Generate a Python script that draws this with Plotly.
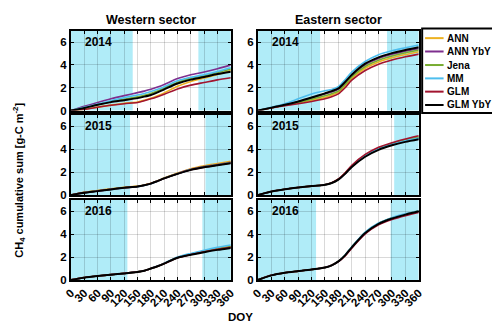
import plotly.graph_objects as go

# ---------------- data ----------------
DOY = [0, 30, 60, 90, 120, 150, 165, 180, 195, 210, 240, 270, 300, 330, 360]
SERIES = ["ANN", "ANN YbY", "Jena", "MM", "GLM", "GLM YbY"]
COLORS = ["#EDB120", "#7E2F8E", "#77AC30", "#4DBEEE", "#A2142F", "#000000"]
YEARS = ["2014", "2015", "2016"]
SECTORS = ["Western sector", "Eastern sector"]
X_TICKS = list(range(0, 361, 30))
Y_TICKS = [0, 2, 4, 6]

# Western sector
W2014_ANN    = [0, .12, .30, .48, .63, .75, .90, 1.08, 1.30, 1.55, 2.12, 2.55, 2.85, 3.15, 3.50]
W2014_ANNYbY = [0, .37, .71, 1.03, 1.31, 1.57, 1.70, 1.86, 2.06, 2.29, 2.80, 3.14, 3.37, 3.66, 4.00]
W2014_Jena   = [0, .25, .52, .78, .98, 1.20, 1.33, 1.50, 1.72, 1.98, 2.48, 2.82, 3.05, 3.33, 3.63]
W2014_MM     = [0, .29, .57, .86, 1.14, 1.37, 1.50, 1.66, 1.86, 2.09, 2.60, 2.91, 3.14, 3.42, 3.75]
W2014_GLM    = [0, .11, .29, .46, .60, .71, .86, 1.03, 1.22, 1.43, 1.89, 2.23, 2.46, 2.69, 2.87]
W2014_GLMYbY = [0, .23, .51, .74, .91, 1.09, 1.22, 1.37, 1.60, 1.86, 2.37, 2.71, 2.94, 3.20, 3.40]

W2015_ANN    = [0, .24, .40, .55, .68, .78, .88, 1.02, 1.24, 1.48, 1.92, 2.30, 2.55, 2.75, 2.95]
W2015_ANNYbY = [0, .21, .36, .50, .64, .75, .86, 1.01, 1.23, 1.46, 1.88, 2.24, 2.48, 2.66, 2.86]
W2015_Jena   = [0, .22, .37, .51, .64, .75, .86, 1.01, 1.23, 1.46, 1.87, 2.23, 2.47, 2.65, 2.85]
W2015_MM     = [0, .20, .35, .49, .62, .73, .84, .99, 1.21, 1.45, 1.86, 2.22, 2.45, 2.63, 2.82]
W2015_GLM    = [0, .21, .35, .50, .63, .74, .85, 1.00, 1.22, 1.45, 1.86, 2.21, 2.44, 2.62, 2.80]
W2015_GLMYbY = [0, .20, .34, .49, .63, .74, .85, 1.00, 1.22, 1.45, 1.85, 2.20, 2.43, 2.60, 2.78]

W2016_ANN    = [0, .20, .34, .46, .57, .70, .80, 1.00, 1.20, 1.44, 1.96, 2.25, 2.50, 2.72, 2.90]
W2016_ANNYbY = [0, .20, .34, .46, .57, .70, .80, 1.00, 1.20, 1.44, 1.95, 2.24, 2.48, 2.70, 2.88]
W2016_Jena   = [0, .20, .34, .46, .57, .70, .80, 1.00, 1.20, 1.44, 1.96, 2.26, 2.52, 2.74, 2.92]
W2016_MM     = [0, .20, .34, .46, .57, .70, .80, 1.00, 1.21, 1.46, 2.00, 2.32, 2.60, 2.85, 3.06]
W2016_GLM    = [0, .20, .34, .46, .57, .70, .80, 1.00, 1.20, 1.43, 1.94, 2.22, 2.46, 2.67, 2.85]
W2016_GLMYbY = [0, .20, .34, .46, .57, .70, .80, 1.00, 1.20, 1.43, 1.94, 2.20, 2.43, 2.63, 2.80]

# Eastern sector
E2014_ANN    = [0, .24, .46, .66, .90, 1.15, 1.35, 1.60, 2.15, 2.80, 3.70, 4.25, 4.62, 4.90, 5.15]
E2014_ANNYbY = [0, .25, .50, .77, 1.10, 1.45, 1.62, 1.85, 2.40, 3.05, 4.00, 4.55, 4.92, 5.20, 5.42]
E2014_Jena   = [0, .25, .48, .72, 1.00, 1.30, 1.48, 1.70, 2.28, 2.95, 3.86, 4.40, 4.77, 5.06, 5.30]
E2014_MM     = [0, .29, .60, 1.03, 1.46, 1.74, 1.85, 2.09, 2.70, 3.37, 4.29, 4.89, 5.23, 5.49, 5.74]
E2014_GLM    = [0, .23, .43, .60, .80, 1.03, 1.20, 1.46, 2.00, 2.66, 3.51, 4.06, 4.43, 4.71, 4.94]
E2014_GLMYbY = [0, .26, .51, .80, 1.14, 1.51, 1.70, 1.94, 2.50, 3.14, 4.11, 4.66, 5.03, 5.31, 5.54]

E2015_ANN    = [0, .30, .50, .65, .78, .90, 1.06, 1.38, 1.90, 2.52, 3.45, 4.08, 4.48, 4.80, 5.05]
E2015_ANNYbY = [0, .30, .50, .65, .78, .90, 1.05, 1.36, 1.87, 2.48, 3.40, 4.00, 4.40, 4.70, 4.93]
E2015_Jena   = [0, .30, .50, .65, .78, .90, 1.06, 1.38, 1.90, 2.53, 3.46, 4.10, 4.50, 4.82, 5.08]
E2015_MM     = [0, .30, .50, .65, .78, .90, 1.05, 1.37, 1.88, 2.50, 3.42, 4.04, 4.44, 4.75, 4.98]
E2015_GLM    = [0, .30, .50, .65, .78, .90, 1.07, 1.40, 1.95, 2.60, 3.55, 4.18, 4.58, 4.90, 5.18]
E2015_GLMYbY = [0, .30, .50, .65, .78, .90, 1.05, 1.35, 1.85, 2.45, 3.35, 3.95, 4.35, 4.65, 4.88]

E2016_ANN    = [0, .40, .63, .77, .91, 1.09, 1.28, 1.62, 2.15, 2.86, 4.12, 4.92, 5.40, 5.74, 6.02]
E2016_ANNYbY = [0, .40, .63, .77, .91, 1.09, 1.28, 1.61, 2.14, 2.84, 4.08, 4.88, 5.35, 5.69, 5.98]
E2016_Jena   = [0, .40, .63, .77, .91, 1.09, 1.28, 1.62, 2.16, 2.87, 4.14, 4.94, 5.41, 5.75, 6.03]
E2016_MM     = [0, .40, .63, .77, .91, 1.09, 1.28, 1.63, 2.18, 2.90, 4.18, 4.98, 5.45, 5.78, 6.05]
E2016_GLM    = [0, .40, .63, .77, .91, 1.09, 1.29, 1.60, 2.10, 2.78, 4.02, 4.82, 5.28, 5.62, 5.90]
E2016_GLMYbY = [0, .40, .63, .77, .91, 1.09, 1.28, 1.62, 2.15, 2.85, 4.10, 4.90, 5.37, 5.71, 6.00]

# ice-cover shading periods (DOY start, end) per panel
W_SHADE = {"2014": [(0, 139), (287, 360)], "2015": [(0, 133), (303, 360)], "2016": [(0, 127), (296, 360)]}
E_SHADE = {"2014": [(0, 139), (289, 360)], "2015": [(0, 139), (305, 360)], "2016": [(0, 130), (297, 360)]}

PANELS = {
    ("W", "2014"): [W2014_ANN, W2014_ANNYbY, W2014_Jena, W2014_MM, W2014_GLM, W2014_GLMYbY],
    ("W", "2015"): [W2015_ANN, W2015_ANNYbY, W2015_Jena, W2015_MM, W2015_GLM, W2015_GLMYbY],
    ("W", "2016"): [W2016_ANN, W2016_ANNYbY, W2016_Jena, W2016_MM, W2016_GLM, W2016_GLMYbY],
    ("E", "2014"): [E2014_ANN, E2014_ANNYbY, E2014_Jena, E2014_MM, E2014_GLM, E2014_GLMYbY],
    ("E", "2015"): [E2015_ANN, E2015_ANNYbY, E2015_Jena, E2015_MM, E2015_GLM, E2015_GLMYbY],
    ("E", "2016"): [E2016_ANN, E2016_ANNYbY, E2016_Jena, E2016_MM, E2016_GLM, E2016_GLMYbY],
}

# ---------------- layout helpers ----------------
W, H = 500, 327
FONT = "Liberation Sans, Arial, sans-serif"
SHADE_COLOR = "rgb(176,236,248)"

def px(x):
    return x / W

def py(y):
    return 1 - y / H

col_px = [(56.5, 220.5), (248.5, 413.5)]
row_px = [(23, 104.5), (109, 190.5), (195.5, 277)]

fig = go.Figure()
layout = dict(
    width=W, height=H, margin=dict(l=0, r=0, t=0, b=0),
    paper_bgcolor="white", plot_bgcolor="white", showlegend=False,
    font=dict(family=FONT, size=11, color="black"),
)
shapes = []
annotations = []

idx = 0
for c, sec in enumerate(["W", "E"]):
    shade = W_SHADE if sec == "W" else E_SHADE
    for r, yr in enumerate(YEARS):
        idx += 1
        xa = "x" if idx == 1 else f"x{idx}"
        ya = "y" if idx == 1 else f"y{idx}"
        xkey = "xaxis" if idx == 1 else f"xaxis{idx}"
        ykey = "yaxis" if idx == 1 else f"yaxis{idx}"
        layout[xkey] = dict(
            domain=[px(col_px[c][0]), px(col_px[c][1])], anchor=ya,
            range=[0, 360], tickvals=X_TICKS, showticklabels=(r == 2),
            tickangle=-45, tickfont=dict(family=FONT, size=11.5, color="black", weight="bold"),
            showgrid=True, gridcolor="rgba(0,0,0,0.15)", gridwidth=1,
            showline=True, linecolor="black", linewidth=2, mirror="ticks",
            ticks="inside", ticklen=3, tickwidth=1, tickcolor="black", zeroline=False,
        )
        layout[ykey] = dict(
            domain=[py(row_px[r][1]), py(row_px[r][0])], anchor=xa,
            range=[0, 7], tickvals=Y_TICKS,
            tickfont=dict(family=FONT, size=11.5, color="black", weight="bold"),
            showgrid=True, gridcolor="rgba(0,0,0,0.15)", gridwidth=1,
            showline=True, linecolor="black", linewidth=2, mirror="ticks",
            ticks="inside", ticklen=3, tickwidth=1, tickcolor="black", zeroline=False,
        )
        for (s0, s1) in shade[yr]:
            shapes.append(dict(type="rect", xref=xa, yref=f"{ya} domain", x0=s0, x1=s1,
                               y0=0, y1=1, fillcolor=SHADE_COLOR, line=dict(width=0),
                               layer="below"))
        for name, color, vals in zip(SERIES, COLORS, PANELS[(sec, yr)]):
            fig.add_trace(go.Scatter(
                x=DOY, y=vals, mode="lines", name=name, xaxis=xa, yaxis=ya,
                line=dict(color=color, width=2 if name == "GLM YbY" else 1.6,
                          shape="spline", smoothing=0.7),
                showlegend=False,
            ))
        annotations.append(dict(xref=xa, yref=ya, x=27, y=6, text=f"<b>{yr}</b>",
                                showarrow=False, xanchor="left", yanchor="middle",
                                font=dict(family=FONT, size=12, color="black")))

# column titles
for c, title in enumerate(SECTORS):
    annotations.append(dict(xref="paper", yref="paper",
                            x=px((col_px[c][0] + col_px[c][1]) / 2), y=py(12.5),
                            text=f"<b>{title}</b>", showarrow=False,
                            xanchor="center", yanchor="middle",
                            font=dict(family=FONT, size=12.5, color="black")))

# axis titles
annotations.append(dict(xref="paper", yref="paper", x=px(3), y=py(175),
                        text="<b>CH<sub>4</sub> cumulative sum [g-C m<sup>-2</sup>]</b>",
                        showarrow=False, textangle=-90, xanchor="center", yanchor="middle",
                        font=dict(family=FONT, size=11, color="black")))
annotations.append(dict(xref="paper", yref="paper", x=px(231), y=py(315),
                        text="<b>DOY</b>", showarrow=False, xanchor="center", yanchor="middle",
                        font=dict(family=FONT, size=11.5, color="black")))

# custom legend box
LEG = (417, 21, 492, 107)
shapes.append(dict(type="rect", xref="paper", yref="paper",
                   x0=px(LEG[0]), x1=px(LEG[2]), y0=py(LEG[3]), y1=py(LEG[1]),
                   fillcolor="white", line=dict(color="black", width=2), layer="above"))
leg_y = [30.7, 44.3, 58.1, 71.7, 85.2, 98.8]
for name, color, yy in zip(SERIES, COLORS, leg_y):
    shapes.append(dict(type="line", xref="paper", yref="paper",
                       x0=px(420), x1=px(439), y0=py(yy), y1=py(yy),
                       line=dict(color=color, width=2), layer="above"))
    annotations.append(dict(xref="paper", yref="paper", x=px(440), y=py(yy),
                            text=f"<b>{name}</b>", showarrow=False,
                            xanchor="left", yanchor="middle",
                            font=dict(family=FONT, size=10, color="black")))

layout["shapes"] = shapes
layout["annotations"] = annotations
fig.update_layout(**layout)
fig.write_html("out.html")
